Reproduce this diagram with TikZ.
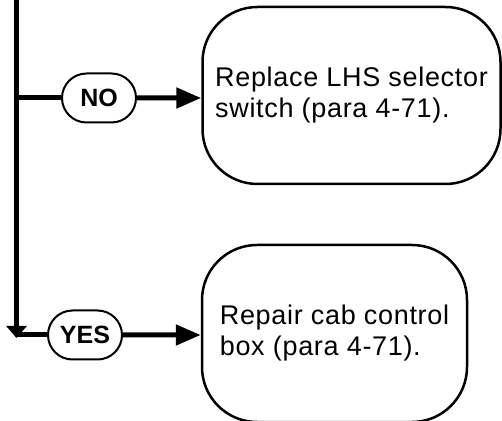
\documentclass[tikz,border=0pt]{standalone}
\usepackage{fontspec}
\setmainfont{Liberation Sans}
\newfontfamily\cajafont[LetterSpace=2.5]{Liberation Sans}
\usetikzlibrary{positioning,arrows.meta,shapes.misc}

\begin{document}
\begin{tikzpicture}[x=0.5pt,y=-0.5pt,
      caja/.style={rounded corners=27.5pt,draw,line width=1.25pt,align=left,inner sep=0pt,
                   font=\cajafont\fontsize{13.5}{15.5}\selectfont,minimum height=88.5pt},
      pastilla/.style={rounded rectangle,draw,line width=1pt,inner sep=0pt,
                   minimum width=37pt,minimum height=24.5pt,font=\bfseries\fontsize{12.5}{14}\selectfont},
      linea/.style={line width=2.5pt},
      flecha/.style={-{Triangle[length=12.5pt,width=10pt]},linea}]
    \useasboundingbox (0,0) rectangle (502,421);
    \node[caja,minimum width=149pt] (cambiar) at (351.5,95.5) {Replace LHS selector\\switch (para 4-71).};
    \node[caja,minimum width=132.5pt] (reparar) at (334.5,333.5) {Repair cab control\\box (para 4-71).};
    \node[pastilla] (no) at (99,98) {NO};
    \node[pastilla] (si) at (85,335) {YES};
    \coordinate (arriba) at (16.5,-6);
    \coordinate (abajo) at (16.5,338);
    \draw[linea,-{Triangle[length=6pt,width=10pt]}] (arriba) -- (abajo);
    \draw[linea] (arriba |- no) -- (no);
    \draw[flecha] (no) -- (no -| cambiar.west);
    \draw[linea] (arriba |- si) -- (si);
    \draw[flecha] (si) -- (si -| reparar.west);
  \end{tikzpicture}
\end{document}
